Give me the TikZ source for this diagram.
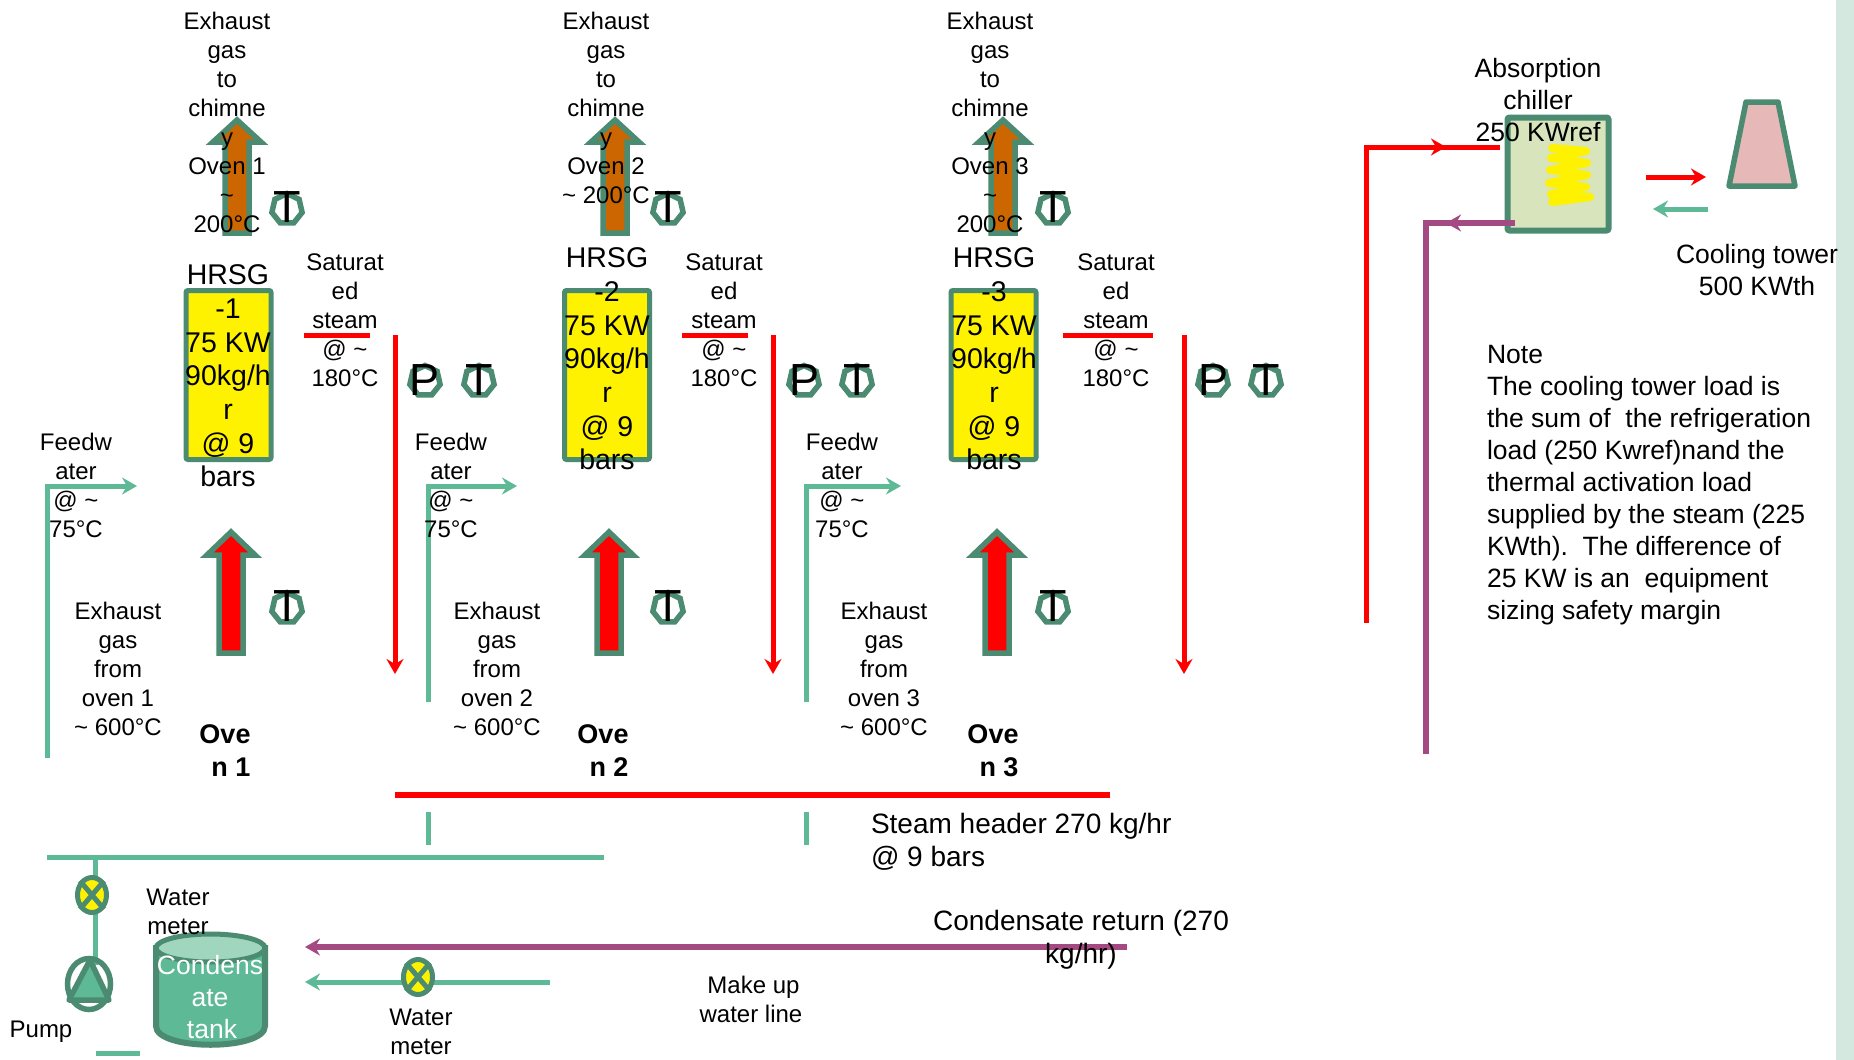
\documentclass[tikz,border=0pt]{standalone}
\usepackage{fontspec}
\setmainfont{Liberation Sans}
\usetikzlibrary{arrows.meta,shapes.geometric}
\definecolor{gline}{HTML}{5DB996}
\definecolor{gdark}{HTML}{4B8B71}
\definecolor{gpale}{HTML}{A0D6BE}
\definecolor{purp}{HTML}{A44A82}
\definecolor{band}{HTML}{D5E8DF}
\definecolor{oran}{HTML}{CC6600}
\definecolor{chil}{HTML}{D7E4BC}
\definecolor{towr}{HTML}{E6B8B7}
\definecolor{coil}{HTML}{FFF200}
\tikzset{
  txt/.style={inner sep=0,outer sep=0,align=center,font=\fontsize{24}{29}\selectfont},
  bigtxt/.style={inner sep=0,outer sep=0,align=center,font=\fontsize{28.5}{33.7}\selectfont},
  midtxt/.style={inner sep=0,outer sep=0,align=center,font=\fontsize{26.5}{32}\selectfont},
  hdtxt/.style={inner sep=0,outer sep=0,align=center,font=\fontsize{28}{33}\selectfont},
  tanktxt/.style={inner sep=0,outer sep=0,align=center,text=white,font=\fontsize{26.5}{32}\selectfont},
  ovtxt/.style={inner sep=0,outer sep=0,align=center,font=\bfseries\fontsize{27}{33}\selectfont},
  sens/.style={regular polygon,regular polygon sides=7,draw=gdark,line width=5.5pt,minimum size=31pt,inner sep=0},
  letter/.style={inner sep=0,font=\fontsize{45}{45}\selectfont},
  hbox/.style={rectangle,draw=gdark,fill=yellow,line width=5pt,rounded corners=2pt,minimum width=85pt,minimum height=169pt},
  blk/.style={draw=gdark,line width=5.5pt,miter limit=10},
  redl/.style={draw=red,line width=5pt},
  hdrl/.style={draw=red,line width=6pt},
  grnl/.style={draw=gline,line width=5pt},
  purl/.style={draw=purp,line width=5.5pt},
  tipl/.style={-{Stealth[length=15pt,width=17pt,inset=5pt]}},
  meter/.style={ellipse,draw=gdark,fill=yellow,line width=5pt,minimum width=29pt,minimum height=35pt,inner sep=0},
}
\begin{document}
\begin{tikzpicture}[x=1pt,y=-1pt]
\path[use as bounding box] (0,0) rectangle (1854,1059.6);
\fill[band] (1836,0) rectangle (1854,1059.6);

% columns
\foreach \i/\hx/\ta/\tb/\sx/\px/\qx/\rx/\ua/\ub/\fx/\fe/\fb in
 {1/228.5/237/231/287/425/479/395/304/370/47/137/758,
  2/607/615/609/668/804/857/773/682/748/428/517/702,
  3/993.5/1003/997/1053/1213/1266/1184/1063/1153/806/901/702}{
  \draw[blk,fill=oran] (\ta,120) -- ++(24,22) -- ++(-12,0) -- (\ta+12,233) -- (\ta-12,233) -- (\ta-12,142) -- ++(-12,0) -- cycle;
  \draw[blk,fill=red] (\tb,532) -- ++(24,23) -- ++(-12,0) -- (\tb+12,653) -- (\tb-12,653) -- (\tb-12,555) -- ++(-12,0) -- cycle;
  \node[hbox] (hrsg\i) at (\hx,375) {};
  \node[sens] (st\i) at (\sx,209) {};
  \node[letter] (stt\i) at (\sx,207) {T};
  \node[sens] (sb\i) at (\sx,608) {};
  \node[letter] (sbt\i) at (\sx,606) {T};
  \node[sens] (sp\i) at (\px,381) {};
  \node[letter] (spt\i) at (\px,380) {P};
  \node[sens] (sq\i) at (\qx,381) {};
  \node[letter] (sqt\i) at (\qx,380) {T};
  \coordinate (ra\i) at (\rx,335);
  \coordinate (rb\i) at (\rx,674);
  \draw[redl,tipl] (ra\i) -- (rb\i);
  \coordinate (ua\i) at (\ua,335);
  \coordinate (ub\i) at (\ub,335);
  \draw[redl] (ua\i) -- (ub\i);
  \coordinate (fa\i) at (\fx,\fb);
  \coordinate (fc\i) at (\fe,486);
  \draw[grnl,tipl] (fa\i) |- (fc\i);
}

% header and water lines
\coordinate (ha) at (395,794.5); \coordinate (hb) at (1110,794.5);
\draw[hdrl] (ha) -- (hb);
\coordinate (s1a) at (428,812); \coordinate (s1b) at (428,845);
\coordinate (s2a) at (806,812); \coordinate (s2b) at (806,845);
\draw[grnl] (s1a) -- (s1b); \draw[grnl] (s2a) -- (s2b);
\coordinate (ba) at (47,857); \coordinate (bb) at (604,857);
\draw[grnl] (ba) -- (bb);
\coordinate (bt) at (95,857); \coordinate (bp) at (95,965);
\draw[grnl] (bt) -- (bp);
\coordinate (da) at (96,1053); \coordinate (db) at (140,1053);
\draw[grnl] (da) -- (db);

% pump
\node[ellipse,draw=gdark,line width=5.5pt,minimum width=43pt,minimum height=51pt,inner sep=0] (pump) at (89,984) {};
\draw[draw=gdark,fill=gline,line width=5.5pt,line join=round] (90,960) -- (109,1000) -- (69,1000) -- cycle;
% meter 1
\node[meter] (m1) at (92,895) {};
\draw[gdark,line width=5pt] (m1.north west) -- (m1.south east);
\draw[gdark,line width=5pt] (m1.north east) -- (m1.south west);

% tank
\draw[draw=gdark,fill=gline,line width=6pt] (156,948) -- (156,1026) .. controls (156,1051) and (265,1051) .. (265,1026) -- (265,948) -- cycle;
\draw[draw=gdark,fill=gpale,line width=5pt] (210.5,948) ellipse [x radius=54.5,y radius=14];

% return lines
\coordinate (ca) at (1127,947); \coordinate (cb) at (305,947);
\draw[purl,tipl] (ca) -- (cb);
\coordinate (wa) at (550,982); \coordinate (wb) at (305,982);
\draw[grnl,tipl] (wa) -- (wb);
\node[meter] (m2) at (418,977) {};
\draw[gdark,line width=5pt] (m2.north west) -- (m2.south east);
\draw[gdark,line width=5pt] (m2.north east) -- (m2.south west);

% chiller
\node[rectangle,draw=gdark,fill=chil,line width=6pt,rounded corners=2pt,minimum width=101pt,minimum height=113pt] (chiller) at (1558,174) {};
\draw[coil,line width=8pt,line join=round,line cap=round] (1552,148) -- (1586,151) -- (1551,158) -- (1587,163) -- (1550,170) -- (1587,175) -- (1549,183) -- (1586,187) -- (1551,194) -- (1590,197) -- (1552,202);
\coordinate (ga) at (1366,623); \coordinate (gb) at (1366,147); \coordinate (gc) at (1500,147); \coordinate (gm) at (1446,147);
\draw[redl] (ga) -- (gb) -- (gc);
\draw[redl,tipl] (gb) -- (gm);
\coordinate (pa) at (1426,754); \coordinate (pb) at (1426,223); \coordinate (pc) at (1515,223); \coordinate (pm) at (1446,223);
\draw[purl] (pa) -- (pb) -- (pc);
\draw[purl,tipl] (pc) -- (pm);
\coordinate (ka) at (1646,177); \coordinate (kb) at (1706,177);
\draw[redl,tipl] (ka) -- (kb);
\coordinate (la) at (1708,209); \coordinate (lb) at (1653,209);
\draw[grnl,tipl] (la) -- (lb);
\draw[draw=gdark,fill=towr,line width=5.5pt,line join=round] (1746,102) -- (1778,102) -- (1795,186) -- (1729,186) -- cycle;

% texts
\node[txt] (e1) at (227,122) {Exhaust\\gas\\to\\chimne\\y\\Oven 1\\\textasciitilde\\200°C};
\node[txt] (e2) at (606,108) {Exhaust\\gas\\to\\chimne\\y\\Oven 2\\\textasciitilde{} 200°C};
\node[txt] (e3) at (990,122) {Exhaust\\gas\\to\\chimne\\y\\Oven 3\\\textasciitilde\\200°C};
\node[bigtxt] (h1) at (228,376) {HRSG\\-1\\75 KW\\90kg/h\\r\\@ 9\\bars};
\node[bigtxt] (h2) at (607,359) {HRSG\\-2\\75 KW\\90kg/h\\r\\@ 9\\bars};
\node[bigtxt] (h3) at (994,359) {HRSG\\-3\\75 KW\\90kg/h\\r\\@ 9\\bars};
\foreach \i/\x in {1/345,2/724,3/1116}{\node[txt] (sat\i) at (\x,320) {Saturat\\ed\\steam\\@ \textasciitilde\\180°C};}
\foreach \i/\x in {1/76,2/451,3/842}{\node[txt] (fw\i) at (\x,485) {Feedw\\ater\\@ \textasciitilde\\75°C};}
\node[txt] (x1) at (118,669) {Exhaust\\gas\\from\\oven 1\\\textasciitilde{} 600°C};
\node[txt] (x2) at (497,669) {Exhaust\\gas\\from\\oven 2\\\textasciitilde{} 600°C};
\node[txt] (x3) at (884,669) {Exhaust\\gas\\from\\oven 3\\\textasciitilde{} 600°C};
\node[ovtxt] (o1) at (228,751) {Ove\kern 6pt\\\kern 6pt n 1};
\node[ovtxt] (o2) at (606,751) {Ove\kern 6pt\\\kern 6pt n 2};
\node[ovtxt] (o3) at (996,751) {Ove\kern 6pt\\\kern 6pt n 3};
\node[hdtxt,anchor=west,align=left] (sh) at (871,842) {Steam header 270 kg/hr\\ @ 9 bars};
\node[hdtxt] (cr) at (1081,940) {Condensate return (270\\kg/hr)};
\node[txt] (mu) at (751,999) {\kern 5pt Make up\\water line};
\node[txt] (w1) at (178,912) {Water\\meter};
\node[txt] (w2) at (421,1032) {Water\\meter};
\node[txt] (pl) at (41,1032) {Pump};
\node[tanktxt] (tk) at (210,997) {Condens\\ate\\\kern 4pt tank};
\node[midtxt] (ab) at (1538,100) {Absorption\\chiller\\250 KWref};
\node[midtxt] (ct) at (1757,270) {Cooling tower\\500 KWth};
\node[midtxt,anchor=west,align=left] (nt) at (1487,485) {Note\\The cooling tower load is\\the sum of\ \ the refrigeration\\load (250 Kwref)nand the\\thermal activation load\\supplied by the steam (225\\KWth).\ \ The difference of\\25 KW is an\ \ equipment\\sizing safety margin};
\end{tikzpicture}
\end{document}
